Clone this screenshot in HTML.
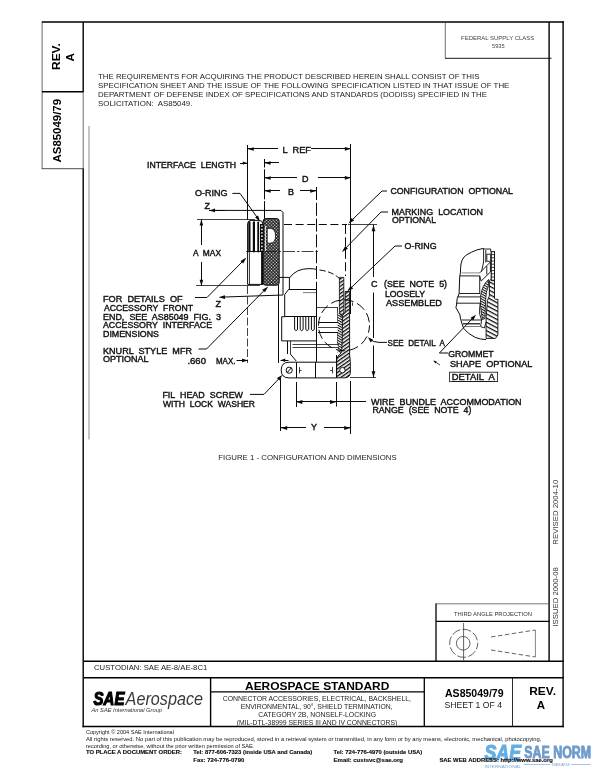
<!DOCTYPE html>
<html lang="en">
<head>
<meta charset="utf-8">
<title>AS85049/79 Rev. A - Aerospace Standard</title>
<style>
html,body{margin:0;padding:0;background:#fff;}
body{width:600px;height:776px;overflow:hidden;position:relative;}
svg{position:absolute;left:0;top:0;display:block;will-change:transform;}
text{font-family:"Liberation Sans",Arial,Helvetica,sans-serif;}
.b{font-weight:bold;}
.i{font-style:italic;}
.fr{stroke:#000;fill:none;}
.hd{font-size:6.9px;fill:#1c1c1c;}
.dl{font-size:9px;fill:#111;stroke:#111;stroke-width:.4px;word-spacing:2.6px;}
.ln{stroke:#0a0a0a;stroke-width:1;fill:none;stroke-linecap:butt;}
.th{stroke:#111;stroke-width:.8;fill:none;}
.ah{fill:#0a0a0a;stroke:none;}
.ft{font-size:5.5px;fill:#161616;}
.ftb{font-size:5.9px;fill:#0a0a0a;font-weight:bold;stroke:#0a0a0a;stroke-width:.12px;}
</style>
</head>
<body>
<svg id="page" width="600" height="776" viewBox="0 0 600 776">
<rect x="0" y="0" width="600" height="776" fill="#fff"/>
<!-- ============ FRAME ============ -->
<g id="frame" class="fr">
  <line x1="41.8" y1="22" x2="563.8" y2="22" stroke-width="1.5"/>
  <line x1="563.1" y1="21.3" x2="563.1" y2="727.3" stroke-width="1.4"/>
  <line x1="549.1" y1="22" x2="549.1" y2="661" stroke-width="1.4"/>
  <line x1="83.2" y1="22" x2="83.2" y2="92" stroke-width="1.4"/>
  <line x1="83.2" y1="91" x2="83.2" y2="169" stroke="#333" stroke-width=".7"/>
  <line x1="83.2" y1="168.4" x2="83.2" y2="727.3" stroke-width="1.4"/>
  <line x1="42.1" y1="22" x2="42.1" y2="168.7" stroke="#333" stroke-width=".75"/>
  <line x1="41.8" y1="168.7" x2="83.3" y2="168.7" stroke="#222" stroke-width=".8"/>
  <line x1="42" y1="91.7" x2="83.3" y2="91.7" stroke-width="1.4"/>
  <line x1="445.3" y1="22" x2="445.3" y2="58.3" stroke="#333" stroke-width=".7"/>
  <line x1="445" y1="58.3" x2="551.5" y2="58.3" stroke="#000" stroke-width=".9"/>
  <line x1="83.3" y1="661.2" x2="563.8" y2="661.2" stroke-width="1.4"/>
  <line x1="83.3" y1="677.8" x2="563.8" y2="677.8" stroke-width="1.4"/>
  <line x1="82.5" y1="726.6" x2="563.8" y2="726.6" stroke-width="1.5"/>
  <line x1="210.6" y1="677.8" x2="210.6" y2="726.6" stroke-width="1.4"/>
  <line x1="424.3" y1="677.8" x2="424.3" y2="726.6" stroke-width="1.3"/>
  <line x1="512.5" y1="677.8" x2="512.5" y2="726.6" stroke="#111" stroke-width=".9"/>
  <line x1="210.6" y1="691.8" x2="424.3" y2="691.8" stroke-width="1.2"/>
  <line x1="436" y1="603.8" x2="549.5" y2="603.8" stroke="#555" stroke-width=".8"/>
  <line x1="436" y1="603.5" x2="436" y2="661" stroke-width="1.3"/>
  <line x1="436" y1="621.3" x2="549.5" y2="621.3" stroke-width="1.3"/>
  <line x1="89" y1="126" x2="89" y2="439.5" stroke="#707070" stroke-width=".8"/>
</g>
<!-- ============ PAGE TEXT ============ -->
<g id="pagetext">
  <text class="hd" x="98" y="79" textLength="381.4" lengthAdjust="spacingAndGlyphs">THE REQUIREMENTS FOR ACQUIRING THE PRODUCT DESCRIBED HEREIN SHALL CONSIST OF THIS</text>
  <text class="hd" x="98" y="88.1" textLength="411.4" lengthAdjust="spacingAndGlyphs">SPECIFICATION SHEET AND THE ISSUE OF THE FOLLOWING SPECIFICATION LISTED IN THAT ISSUE OF THE</text>
  <text class="hd" x="98" y="97.2" textLength="389" lengthAdjust="spacingAndGlyphs">DEPARTMENT OF DEFENSE INDEX OF SPECIFICATIONS AND STANDARDS (DODISS) SPECIFIED IN THE</text>
  <text class="hd" x="98" y="106.4" textLength="94.4" lengthAdjust="spacingAndGlyphs" xml:space="preserve">SOLICITATION:  AS85049.</text>

  <!-- left tab (rotated) -->
  <text class="b" font-size="11.6" text-anchor="middle" transform="translate(60.1 56.6) rotate(-90)" textLength="26.8" lengthAdjust="spacingAndGlyphs">REV.</text>
  <text class="b" font-size="11.6" text-anchor="middle" transform="translate(74.4 57.2) rotate(-90)">A</text>
  <text class="b" font-size="11.4" text-anchor="middle" transform="translate(61 130.7) rotate(-90)" textLength="63.5" lengthAdjust="spacingAndGlyphs">AS85049/79</text>

  <!-- federal supply class -->
  <text font-size="5.7" fill="#444" text-anchor="middle" x="497.7" y="40.3" textLength="73.3" lengthAdjust="spacingAndGlyphs">FEDERAL SUPPLY CLASS</text>
  <text font-size="5.7" fill="#444" text-anchor="middle" x="498.3" y="47.8">5935</text>

  <!-- caption -->
  <text font-size="6.7" fill="#222" x="218.2" y="459.6" textLength="178.5" lengthAdjust="spacingAndGlyphs">FIGURE 1 - CONFIGURATION AND DIMENSIONS</text>

  <!-- right strip (rotated) -->
  <text font-size="7.75" fill="#333" transform="translate(558.3 626.6) rotate(-90)" textLength="59.4" lengthAdjust="spacingAndGlyphs">ISSUED 2000-08</text>
  <text font-size="7.75" fill="#333" transform="translate(558.3 544.7) rotate(-90)" textLength="65" lengthAdjust="spacingAndGlyphs">REVISED 2004-10</text>

  <!-- third angle projection -->
  <text font-size="6.2" fill="#333" x="454" y="616" textLength="78" lengthAdjust="spacingAndGlyphs">THIRD ANGLE PROJECTION</text>
  <g stroke="#3a3a3a" stroke-width=".8" fill="none">
    <line x1="463.6" y1="623" x2="463.6" y2="660.4"/>
    <circle cx="463.2" cy="643.3" r="6.8"/>
    <circle cx="463.7" cy="643.3" r="14" stroke-dasharray="9 2.2" stroke-dashoffset="3"/>
    <line x1="491" y1="637" x2="535.4" y2="630" stroke-dasharray="4.5 2.5"/>
    <line x1="491" y1="650" x2="535.4" y2="657" stroke-dasharray="4.5 2.5"/>
    <line x1="535.4" y1="630" x2="535.4" y2="657" stroke="#666"/>
  </g>

  <!-- title block -->
  <text font-size="7.4" fill="#222" x="94" y="670" textLength="113.3" lengthAdjust="spacingAndGlyphs">CUSTODIAN: SAE AE-8/AE-8C1</text>
  <text class="b" font-size="11.5" x="245" y="690" textLength="144.3" lengthAdjust="spacingAndGlyphs">AEROSPACE STANDARD</text>
  <text font-size="7" fill="#222" x="222.7" y="701.3" textLength="188.3" lengthAdjust="spacingAndGlyphs">CONNECTOR ACCESSORIES, ELECTRICAL, BACKSHELL,</text>
  <text font-size="7" fill="#222" x="240.7" y="709" textLength="152" lengthAdjust="spacingAndGlyphs">ENVIRONMENTAL, 90°, SHIELD TERMINATION,</text>
  <text font-size="7" fill="#222" x="258.3" y="716.8" textLength="117.7" lengthAdjust="spacingAndGlyphs">CATEGORY 2B, NONSELF-LOCKING</text>
  <text font-size="7" fill="#222" x="236.7" y="724.6" textLength="160.6" lengthAdjust="spacingAndGlyphs">(MIL-DTL-38999 SERIES III AND IV CONNECTORS)</text>
  <text class="b" font-size="10.5" x="445" y="697" textLength="58.6" lengthAdjust="spacingAndGlyphs">AS85049/79</text>
  <text font-size="8.6" fill="#222" x="444.4" y="708.4" textLength="57.6" lengthAdjust="spacingAndGlyphs">SHEET 1 OF 4</text>
  <text class="b" font-size="11.5" x="529.2" y="695" textLength="26.8" lengthAdjust="spacingAndGlyphs">REV.</text>
  <text class="b" font-size="11.5" text-anchor="middle" x="541" y="708.9">A</text>

  <!-- SAE Aerospace logo -->
  <text class="b i" font-size="18" x="93.6" y="704.6" textLength="30.8" lengthAdjust="spacingAndGlyphs" fill="#000" stroke="#000" stroke-width="1.2">SAE</text>
  <text class="i" font-size="17.6" x="125.6" y="704.6" textLength="77.4" lengthAdjust="spacingAndGlyphs" fill="#3a3a3a">Aerospace</text>
  <text class="i" font-size="5.6" x="91.5" y="712.4" textLength="70.5" lengthAdjust="spacingAndGlyphs" fill="#333">An SAE International Group</text>
</g>
<!-- ============ DRAWING ============ -->
<defs>
<pattern id="knurl" width="2.3" height="2.3" patternUnits="userSpaceOnUse" patternTransform="translate(263.4 218.6) rotate(45)"><rect width="2.3" height="2.3" fill="#0a0a0a"/><rect x=".5" y=".5" width="1.3" height="1.3" fill="#fff"/></pattern>
<pattern id="hatch" width="3" height="3" patternUnits="userSpaceOnUse" patternTransform="rotate(-35)"><rect width="3" height="3" fill="#fff"/><rect width="3" height="1.35" fill="#0a0a0a"/></pattern>
<pattern id="hatch2" width="3.7" height="3.7" patternUnits="userSpaceOnUse" patternTransform="rotate(28)"><rect width="3.7" height="3.7" fill="#fff"/><rect width="3.7" height="1.25" fill="#0a0a0a"/></pattern>
<pattern id="hatch3" width="2.2" height="2.2" patternUnits="userSpaceOnUse" patternTransform="rotate(30)"><rect width="2.2" height="2.2" fill="#fff"/><rect width="2.2" height="1.0" fill="#0a0a0a"/></pattern>
</defs>
<g id="drawing">
<line class="ln" x1="247.5" y1="145.0" x2="247.5" y2="220.0"/>
<line class="ln" x1="264.5" y1="159.0" x2="264.5" y2="219.5" stroke-dasharray="8.5 1.8 30 1.8 40 2"/>
<line class="ln" x1="316.5" y1="187.0" x2="316.5" y2="292.0" stroke-dasharray="13 2.8" stroke-width=".9"/>
<line class="ln" x1="350.5" y1="144.0" x2="350.5" y2="314.0"/>
<line class="ln" x1="278.0" y1="148.5" x2="247.6" y2="148.5"/><polygon class="ah" points="247.6,149.0 253.8,147.2 253.8,150.8"/>
<text class="dl" x="282.4" y="152.6" textLength="28.6" lengthAdjust="spacingAndGlyphs">L REF</text>
<line class="ln" x1="311.0" y1="148.5" x2="351.0" y2="148.5"/><polygon class="ah" points="351.0,148.8 344.8,150.7 344.8,147.0"/>
<text class="dl" x="147.0" y="168.0" textLength="89.0" lengthAdjust="spacingAndGlyphs">INTERFACE LENGTH</text>
<line class="ln" x1="240.0" y1="163.5" x2="247.4" y2="163.5"/><polygon class="ah" points="247.4,163.1 242.8,164.8 242.8,161.4"/>
<line class="ln" x1="279.0" y1="162.5" x2="264.4" y2="162.5"/><polygon class="ah" points="264.4,163.0 270.6,161.2 270.6,164.8"/>
<line class="ln" x1="297.0" y1="177.5" x2="264.4" y2="177.5"/><polygon class="ah" points="264.4,178.0 270.6,176.2 270.6,179.8"/>
<text class="dl" x="302.0" y="182.0">D</text>
<line class="ln" x1="318.0" y1="177.5" x2="351.0" y2="177.5"/><polygon class="ah" points="351.0,177.8 344.8,179.7 344.8,176.0"/>
<line class="ln" x1="280.0" y1="190.5" x2="264.4" y2="190.5"/><polygon class="ah" points="264.4,191.0 270.6,189.2 270.6,192.8"/>
<text class="dl" x="288.0" y="194.6">B</text>
<line class="ln" x1="300.0" y1="190.5" x2="316.4" y2="190.5"/><polygon class="ah" points="316.4,191.0 310.2,192.8 310.2,189.2"/>
<line class="th" x1="197.0" y1="219.5" x2="255.0" y2="219.5"/>
<line class="th" x1="196.0" y1="285.5" x2="260.0" y2="285.5"/>
<line class="ln" x1="201.5" y1="245.0" x2="201.5" y2="219.4"/><polygon class="ah" points="201.4,219.4 203.2,225.6 199.6,225.6"/>
<line class="ln" x1="201.5" y1="262.0" x2="201.5" y2="286.0"/><polygon class="ah" points="201.4,286.0 199.6,279.8 203.2,279.8"/>
<text class="dl" x="193.0" y="256.0" textLength="28.0" lengthAdjust="spacingAndGlyphs">A MAX</text>
<text class="dl" x="204.4" y="209.4">Z</text>
<line class="ln" x1="225.0" y1="210.5" x2="209.0" y2="210.5"/><polygon class="ah" points="209.0,210.4 215.0,208.6 215.0,212.2"/>
<path class="ln" d="M214.0 210.4 L281.0 210.4 L283.0 212.5 L283.0 295.0 L225.0 297.0"/>
<polygon class="ah" points="218.5,297.2 224.9,295.2 225.1,298.9"/>
<text class="dl" x="215.4" y="307.0">Z</text>
<text class="dl" x="195.0" y="196.4" textLength="32.6" lengthAdjust="spacingAndGlyphs">O-RING</text>
<path class="ln" d="M247.6 284.4 V224 Q247.6 220.4 251 220.4 H259 Q262.6 220.4 262.8 224 V284.4 Z" fill="#fff"/>
<line x1="249.4" y1="222.4" x2="249.4" y2="251.5" stroke="#0a0a0a" stroke-width="2.2" stroke-linecap="round"/>
<line x1="253.9" y1="222.4" x2="253.9" y2="251.5" stroke="#0a0a0a" stroke-width="2.2" stroke-linecap="round"/>
<line x1="258.2" y1="222.4" x2="258.2" y2="251.5" stroke="#0a0a0a" stroke-width="1.8" stroke-linecap="round"/>
<line class="ln" x1="247.6" y1="251.5" x2="262.8" y2="251.5"/>
<line class="th" x1="249.5" y1="284.2" x2="249.5" y2="252.5"/>
<line x1="262.2" y1="252" x2="262.2" y2="284.6" stroke="#0a0a0a" stroke-width="2.2"/>
<rect x="263.2" y="218.6" width="16" height="66.6" rx="2.6" ry="2.6" fill="url(#knurl)" stroke="#0a0a0a" stroke-width="1"/>
<rect x="260" y="224" width="3.6" height="28" fill="#0a0a0a"/>
<circle cx="261.9" cy="226.0" r=".85" fill="#fff"/>
<circle cx="261.9" cy="229.4" r=".85" fill="#fff"/>
<circle cx="261.9" cy="232.8" r=".85" fill="#fff"/>
<circle cx="261.9" cy="236.2" r=".85" fill="#fff"/>
<circle cx="261.9" cy="239.6" r=".85" fill="#fff"/>
<circle cx="261.9" cy="243.0" r=".85" fill="#fff"/>
<circle cx="261.9" cy="246.4" r=".85" fill="#fff"/>
<circle cx="261.9" cy="249.8" r=".85" fill="#fff"/>
<line x1="265.5" y1="226" x2="265.5" y2="251.6" stroke="#fff" stroke-width=".8"/>
<path d="M267.2 228.4 H270.5 Q275.6 229 275.6 235.8 Q275.6 242.6 270.5 243.2 H267.2 Z" fill="#fff" stroke="#0a0a0a" stroke-width=".8"/>
<path class="ln" d="M232.4 193.4 L240.0 193.4 L257.6 218.0"/>
<polygon class="ah" points="260.0,221.4 255.1,217.5 258.1,215.4"/>
<line class="ln" x1="284.0" y1="224.5" x2="347.0" y2="224.5" stroke-dasharray="8 3.6" stroke-width=".85"/>
<line class="th" x1="348.0" y1="224.5" x2="377.0" y2="224.5"/>
<line class="th" x1="246.0" y1="251.5" x2="320.0" y2="251.5" stroke-dasharray="12 2 2.5 2"/>
<line class="ln" x1="345.5" y1="225.0" x2="345.5" y2="276.0" stroke-dasharray="9 3.4" stroke-width=".85"/>
<line class="th" x1="247.5" y1="286.0" x2="247.5" y2="363.0" stroke-dasharray="8 2.5"/>
<line class="ln" x1="278.5" y1="285.0" x2="278.5" y2="363.0"/>
<path class="ln" d="M279.0 277.4 L289.4 277.4 L289.4 289.3"/>
<path class="ln" d="M289.4 278 Q296 268.6 309 268.6 Q314 268.6 316.4 269.4"/>
<path class="ln" d="M319.5 270 Q332 271.5 339.5 278.5" stroke-dasharray="6 2.6"/>
<line class="ln" x1="288.7" y1="289.5" x2="316.0" y2="289.5"/>
<line x1="303" y1="292.6" x2="316" y2="292.6" stroke="#444" stroke-width=".7"/>
<path class="ln" d="M284.7 316.7 L284.7 294.6 L288.7 289.3"/>
<path class="ln" d="M284.7 316.7 L281.7 316.7 L281.7 340.9 L316.2 340.9"/>
<line class="ln" x1="284.7" y1="316.5" x2="316.2" y2="316.5"/>
<line class="ln" x1="316.5" y1="291.9" x2="316.5" y2="362.0"/>
<path class="ln" d="M294.6 317 V329.6 Q296.1 331.6 297.5 329.6 V317" stroke-width="1.15"/>
<path class="ln" d="M300.2 317 V329.6 Q301.6 331.6 303.1 329.6 V317" stroke-width="1.15"/>
<path class="ln" d="M305.8 317 V329.6 Q307.2 331.6 308.7 329.6 V317" stroke-width="1.15"/>
<path class="ln" d="M311.4 317 V329.6 Q312.8 331.6 314.3 329.6 V317" stroke-width="1.15"/>
<line class="th" x1="316.2" y1="307.5" x2="338.0" y2="307.5"/>
<line class="ln" x1="318.0" y1="322.5" x2="338.0" y2="322.5" stroke-width="1.4"/>
<line class="th" x1="318.0" y1="327.5" x2="338.0" y2="327.5"/>
<line class="ln" x1="318.0" y1="332.5" x2="338.0" y2="332.5" stroke-width="1.4"/>
<line class="th" x1="337.5" y1="307.7" x2="337.5" y2="322.5"/>
<line class="th" x1="337.5" y1="332.6" x2="337.5" y2="344.0"/>
<rect x="337.6" y="313" width="4.8" height="40" fill="url(#hatch3)" stroke="none"/>
<line class="ln" x1="287.5" y1="341.0" x2="287.5" y2="354.0"/>
<line class="th" x1="290.5" y1="341.0" x2="290.5" y2="354.0"/>
<line class="th" x1="292.5" y1="344.5" x2="339.0" y2="344.5"/>
<line class="th" x1="292.5" y1="347.5" x2="339.0" y2="347.5"/>
<path class="ln" d="M290.4 354.0 L296.2 361.0"/>
<path d="M339.4 277.4 H343.8 V312 L345 316 H341.2 L339.4 312 Z" fill="url(#hatch)" stroke="#0a0a0a" stroke-width=".8"/>
<path d="M345.2 291.5 H349.6 V355 Q350.6 360 350.4 372 Q350.2 377.8 345 377.8 H336.6 V360 Q337 356 341 353 Q342.6 350 342.4 316 L345.2 312 Z" fill="url(#hatch)" stroke="#0a0a0a" stroke-width=".9"/>
<circle cx="342.4" cy="370.2" r="2.7" fill="#fff" stroke="#0a0a0a" stroke-width=".9"/>
<line class="th" x1="352.5" y1="302.5" x2="352.5" y2="305.8"/>
<path class="ln" d="M336.6 362.2 H289 Q281.2 362.2 281.2 370.1 Q281.2 377.9 289 377.9 H336.6" stroke-width="1.4"/>
<line class="ln" x1="296.5" y1="362.2" x2="296.5" y2="377.9"/>
<line class="ln" x1="315.5" y1="362.2" x2="315.5" y2="377.9"/>
<line class="ln" x1="336.5" y1="355.0" x2="336.5" y2="377.9"/>
<circle class="ln" cx="289.2" cy="370.2" r="3.1" stroke-width="1.7"/>
<line class="ln" x1="287.2" y1="372.6" x2="291.3" y2="367.8" stroke-width="1.6"/>
<line class="th" x1="299.5" y1="367.0" x2="299.5" y2="373.4"/>
<line class="th" x1="299.3" y1="370.5" x2="301.6" y2="370.5"/>
<line class="th" x1="332.5" y1="367.0" x2="332.5" y2="373.4"/>
<line class="th" x1="330.0" y1="370.5" x2="332.3" y2="370.5"/>
<circle cx="344" cy="325.3" r="25.5" class="ln" stroke-width="1.1" stroke-dasharray="9.5 4" stroke-dashoffset="2"/>
<text class="dl" x="390.4" y="193.6" textLength="122.6" lengthAdjust="spacingAndGlyphs">CONFIGURATION OPTIONAL</text>
<path class="ln" d="M387.0 191.0 L382.0 191.0 L352.6 219.4"/>
<polygon class="ah" points="348.6,223.4 351.6,217.9 354.2,220.6"/>
<text class="dl" x="391.6" y="215.2" textLength="91.4" lengthAdjust="spacingAndGlyphs">MARKING LOCATION</text>
<text class="dl" x="392.0" y="223.0" textLength="44.0" lengthAdjust="spacingAndGlyphs">OPTIONAL</text>
<path class="ln" d="M388.0 212.0 L381.0 212.0 L345.6 248.2"/>
<polygon class="ah" points="342.0,252.0 345.2,246.1 347.9,248.7"/>
<text class="dl" x="404.6" y="249.0" textLength="32.0" lengthAdjust="spacingAndGlyphs">O-RING</text>
<path class="ln" d="M402.0 246.0 L395.0 246.0 L350.4 288.4"/>
<polygon class="ah" points="347.2,291.5 350.6,285.7 353.2,288.4"/>
<line class="ln" x1="373.5" y1="277.0" x2="373.5" y2="225.0"/><polygon class="ah" points="373.5,225.0 375.4,231.2 371.6,231.2"/>
<text class="dl" x="371.0" y="287.0">C</text>
<line class="ln" x1="373.5" y1="292.5" x2="373.5" y2="338.0"/>
<line class="ln" x1="373.5" y1="345.5" x2="373.5" y2="377.4"/><polygon class="ah" points="373.5,377.4 371.6,371.2 375.4,371.2"/>
<line class="th" x1="350.0" y1="377.5" x2="376.0" y2="377.5"/>
<text class="dl" x="384.0" y="287.0" textLength="63.0" lengthAdjust="spacingAndGlyphs">(SEE NOTE 5)</text>
<text class="dl" x="385.0" y="296.6" textLength="40.0" lengthAdjust="spacingAndGlyphs">LOOSELY</text>
<text class="dl" x="386.0" y="305.6" textLength="56.0" lengthAdjust="spacingAndGlyphs">ASSEMBLED</text>
<text class="dl" x="387.6" y="346.0" textLength="57.4" lengthAdjust="spacingAndGlyphs">SEE DETAIL A</text>
<path class="ln" d="M387 342.4 H379 Q373 342.2 370.2 339.4"/>
<polygon class="ah" points="368.0,337.2 373.2,339.8 370.6,342.4"/>
<text class="dl" x="448.2" y="357.0" textLength="45.4" lengthAdjust="spacingAndGlyphs">GROMMET</text>
<text class="dl" x="450.0" y="366.5" textLength="82.4" lengthAdjust="spacingAndGlyphs">SHAPE OPTIONAL</text>
<path class="ln" d="M448.0 353.0 L439.4 353.0 L472.6 318.3"/>
<polygon class="ah" points="476.0,314.8 473.2,320.4 470.5,317.8"/>
<path class="th" d="M434.0 361.0 L440.0 365.0"/>
<polygon class="ah" points="433.4,360.6 436.7,361.4 435.4,363.4"/>
<rect class="th" x="449.6" y="372.2" width="48" height="9.4"/>
<text class="dl" x="451.8" y="380.3" textLength="43.0" lengthAdjust="spacingAndGlyphs">DETAIL A</text>
<line class="th" x1="452.0" y1="381.5" x2="495.0" y2="381.5"/>
<text class="dl" x="371.0" y="404.6" textLength="150.6" lengthAdjust="spacingAndGlyphs">WIRE BUNDLE ACCOMMODATION</text>
<text class="dl" x="372.4" y="413.4" textLength="99.0" lengthAdjust="spacingAndGlyphs">RANGE (SEE NOTE 4)</text>
<line class="ln" x1="280.5" y1="378.0" x2="280.5" y2="431.0"/>
<line class="ln" x1="296.5" y1="382.0" x2="296.5" y2="407.0"/>
<line class="ln" x1="336.5" y1="382.0" x2="336.5" y2="406.5"/>
<line class="ln" x1="350.5" y1="381.0" x2="350.5" y2="434.0"/>
<line class="ln" x1="316.0" y1="401.5" x2="296.2" y2="401.5"/><polygon class="ah" points="296.2,402.0 302.4,400.1 302.4,403.9"/>
<line class="ln" x1="316.0" y1="401.5" x2="336.2" y2="401.5"/><polygon class="ah" points="336.2,402.0 330.0,403.9 330.0,400.1"/>
<line class="ln" x1="336.2" y1="401.5" x2="366.0" y2="401.5"/>
<line class="ln" x1="306.0" y1="427.5" x2="281.0" y2="427.5"/><polygon class="ah" points="281.0,428.0 287.2,426.1 287.2,429.9"/>
<text class="dl" x="311.0" y="430.0">Y</text>
<line class="ln" x1="324.0" y1="427.5" x2="350.4" y2="427.5"/><polygon class="ah" points="350.4,428.0 344.2,429.9 344.2,426.1"/>
<text class="dl" x="103.0" y="302.4" textLength="79.6" lengthAdjust="spacingAndGlyphs">FOR DETAILS OF</text>
<text class="dl" x="104.0" y="310.8" textLength="89.0" lengthAdjust="spacingAndGlyphs">ACCESSORY FRONT</text>
<text class="dl" x="103.0" y="319.6" textLength="118.0" lengthAdjust="spacingAndGlyphs">END, SEE AS85049 FIG. 3</text>
<text class="dl" x="103.0" y="328.4" textLength="109.0" lengthAdjust="spacingAndGlyphs">ACCESSORY INTERFACE</text>
<text class="dl" x="103.0" y="336.6" textLength="56.0" lengthAdjust="spacingAndGlyphs">DIMENSIONS</text>
<path class="ln" d="M195.0 297.5 L207.0 297.5 L243.6 260.4"/>
<polygon class="ah" points="246.4,257.6 243.2,263.5 240.5,260.9"/>
<text class="dl" x="103.0" y="353.6" textLength="89.0" lengthAdjust="spacingAndGlyphs">KNURL STYLE MFR</text>
<text class="dl" x="103.0" y="362.4" textLength="45.6" lengthAdjust="spacingAndGlyphs">OPTIONAL</text>
<path class="ln" d="M198.5 349.0 L206.5 349.0 L265.4 289.2"/>
<polygon class="ah" points="268.2,286.4 265.0,292.3 262.3,289.7"/>
<text class="dl" x="187.4" y="364.2" textLength="18.6" lengthAdjust="spacingAndGlyphs">.660</text>
<text class="dl" x="216.0" y="364.2" textLength="19.4" lengthAdjust="spacingAndGlyphs">MAX.</text>
<line class="ln" x1="236.5" y1="360.5" x2="248.0" y2="360.5"/><polygon class="ah" points="248.0,360.4 242.0,362.2 242.0,358.5"/>
<line class="ln" x1="288.5" y1="360.5" x2="280.6" y2="360.5"/><polygon class="ah" points="280.6,360.2 285.2,358.5 285.2,361.9"/>
<text class="dl" x="162.4" y="398.0" textLength="80.6" lengthAdjust="spacingAndGlyphs">FIL HEAD SCREW</text>
<text class="dl" x="163.0" y="407.0" textLength="92.0" lengthAdjust="spacingAndGlyphs">WITH LOCK WASHER</text>
<path class="ln" d="M250.0 394.4 L264.0 394.4 L280.0 377.6"/>
<polygon class="ah" points="282.4,375.0 279.6,380.6 276.9,378.1"/>
</g>
<!-- ============ DETAIL A ============ -->
<g id="detailA" stroke="#0a0a0a" stroke-width=".9" fill="none" stroke-linejoin="round">
<path d="M489.4 281 L491.3 279 V251.7 H494.5 V298.7 L495.8 299.3 H497.9 V335 L495.5 338.4 H486.1 V318 L487.4 300.5 L489.4 296 Z" fill="url(#hatch2)"/>
<rect x="491.3" y="251.7" width="3.2" height="29" fill="#fff"/>
<line x1="491.3" y1="254.6" x2="494.5" y2="254.6" stroke-width=".8"/>
<line x1="491.3" y1="257.8" x2="494.5" y2="257.8" stroke-width=".8"/>
<line x1="491.3" y1="261.0" x2="494.5" y2="261.0" stroke-width=".8"/>
<line x1="491.3" y1="264.2" x2="494.5" y2="264.2" stroke-width=".8"/>
<line x1="491.3" y1="267.4" x2="494.5" y2="267.4" stroke-width=".8"/>
<line x1="491.3" y1="270.6" x2="494.5" y2="270.6" stroke-width=".8"/>
<line x1="491.3" y1="273.8" x2="494.5" y2="273.8" stroke-width=".8"/>
<line x1="491.3" y1="277.0" x2="494.5" y2="277.0" stroke-width=".8"/>
<line x1="491.3" y1="280.2" x2="494.5" y2="280.2" stroke-width=".8"/>
<path d="M483.6 248.4 Q476 249.6 471.3 252.3 Q466 254.8 464.2 256.8 Q461.6 260 461 263.9 Q460.5 268 460.4 272.9 L459.7 276.8 L459.1 293.5 L457.2 298.7 L456.5 305.1 L455.9 307.7 L459.7 314.2 L461 320.6 L463.6 328.3 Q468 334 475.2 337.4 Q480 339.4 486.1 339.6" stroke-width="1"/>
<path d="M483.6 248.4 L484.2 249 H490.7 V251.7"/>
<path d="M483.6 248.6 V262 L481.5 271.6"/>
<path d="M485.8 250 V262.5"/>
<rect x="486.8" y="254.2" width="3.9" height="7.1" fill="#fff"/>
<path d="M479.7 272.9 L486.8 265.6 L490.4 262 V272 L481.2 281 L479.7 276"/>
<path d="M486.8 266 V274.6"/>
<line x1="461.6" y1="272.9" x2="479.7" y2="272.9" stroke="#555" stroke-width=".7"/>
<line x1="460" y1="275.9" x2="479.7" y2="275.9"/>
<line x1="479.7" y1="275.9" x2="479.7" y2="293"/>
<line x1="459.2" y1="293.5" x2="480.2" y2="293.5"/>
<line x1="457.6" y1="296.9" x2="480.2" y2="296.9"/>
<line x1="456.6" y1="303.2" x2="480.2" y2="303.2"/>
<line x1="461.6" y1="320" x2="481.6" y2="320"/>
<line x1="463" y1="323.8" x2="480" y2="323.8" stroke-width="1.2"/>
<line x1="465" y1="326.5" x2="480" y2="326.5" stroke="#444" stroke-width=".7"/>
<path d="M488.6 279.4 Q482 285 480.6 296 Q480 306 481.4 313 L482.4 319.6 L485 318.4 L485.6 300.5 Q485.8 291 488.6 285.5 Z" fill="url(#hatch3)" stroke-width=".8"/>
<path d="M480.2 303.2 Q479.2 309 479.7 314.2 L481.6 320 L480.6 326.6 L484.4 328 L486.1 322"/>
</g>
<!-- ============ WATERMARK ============ -->
<g id="watermark" opacity=".88">
  <text class="b i" font-size="22" x="484.5" y="759.6" textLength="36.5" lengthAdjust="spacingAndGlyphs" fill="#4fa3de" stroke="#4fa3de" stroke-width="1.2">SAE</text>
  <text class="b" font-size="16" x="524.3" y="758.2" textLength="66.8" lengthAdjust="spacingAndGlyphs" fill="#5b8ec6" stroke="#5b8ec6" stroke-width=".9">SAE NORM</text>
  <text font-size="4.2" x="484.4" y="768" textLength="36.8" lengthAdjust="spacingAndGlyphs" fill="#5b9bd5">INTERNATIONAL</text>
  <line x1="524" y1="764.5" x2="550.5" y2="764.5" stroke="#6a9fd4" stroke-width=".7"/>
  <line x1="571" y1="764.5" x2="590.6" y2="764.5" stroke="#6a9fd4" stroke-width=".7"/>
  <text font-size="3.6" x="551.8" y="766" textLength="18" lengthAdjust="spacingAndGlyphs" fill="#5b8ec6">STANDARDS</text>
</g>
<!-- ============ FOOTER ============ -->
<g id="footer">
  <text class="ft" x="85.9" y="733.9" textLength="88" lengthAdjust="spacingAndGlyphs">Copyright © 2004 SAE International</text>
  <text class="ft" x="85.9" y="740.6" textLength="455.6" lengthAdjust="spacingAndGlyphs">All rights reserved.  No part of this publication may be reproduced, stored in a retrieval system or transmitted, in any form or by any means, electronic, mechanical, photocopying,</text>
  <text class="ft" x="85.9" y="747.5" textLength="168.5" lengthAdjust="spacingAndGlyphs">recording, or otherwise, without the prior written permission of SAE.</text>
  <text class="ftb" x="85.9" y="754.2" textLength="96" lengthAdjust="spacingAndGlyphs">TO PLACE A DOCUMENT ORDER:</text>
  <text class="ftb" x="193.3" y="754.2" textLength="119" lengthAdjust="spacingAndGlyphs">Tel:  877-606-7323 (inside USA and Canada)</text>
  <text class="ftb" x="333.5" y="754.2" textLength="88.8" lengthAdjust="spacingAndGlyphs">Tel:  724-776-4970 (outside USA)</text>
  <text class="ftb" x="193.3" y="762.2" textLength="51" lengthAdjust="spacingAndGlyphs">Fax:  724-776-0790</text>
  <text class="ftb" x="333.5" y="762.2" textLength="69.5" lengthAdjust="spacingAndGlyphs">Email:  custsvc@sae.org</text>
  <text class="ftb" x="439.4" y="762.2" textLength="113.4" lengthAdjust="spacingAndGlyphs">SAE WEB ADDRESS:  http://www.sae.org</text>
</g>
</svg>
</body>
</html>
